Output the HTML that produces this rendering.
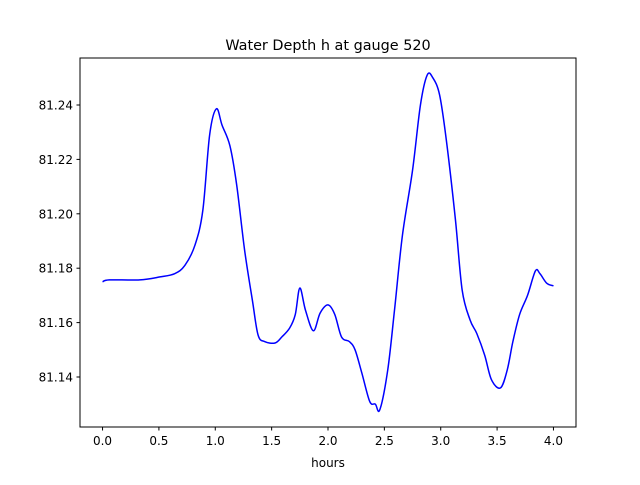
<!DOCTYPE html>
<html><head><meta charset="utf-8"><style>
body{margin:0;background:#fff;}
svg text{font-family:"DejaVu Sans","Liberation Sans",sans-serif;}
</style></head><body>
<svg id="chart" width="640" height="480" xmlns="http://www.w3.org/2000/svg">
<rect width="640" height="480" fill="#fff"/>
<text x="328" y="50" text-anchor="middle" font-size="14.4">Water Depth h at gauge 520</text>
<g id="plot"></g>
<rect x="80" y="58" width="496" height="369" fill="none" stroke="#000" stroke-width="1"/>
<text x="328" y="467" text-anchor="middle" font-size="12">hours</text>
</svg>
<script>
const xs=[0.0,0.06,0.33,0.51,0.64,0.73,0.82,0.89,0.95,1.01,1.06,1.13,1.19,1.26,1.33,1.38,1.44,1.53,1.59,1.66,1.71,1.75,1.80,1.87,1.93,2.00,2.06,2.12,2.19,2.24,2.30,2.37,2.42,2.46,2.53,2.59,2.66,2.75,2.82,2.88,2.93,2.99,3.05,3.13,3.19,3.26,3.32,3.39,3.45,3.53,3.59,3.64,3.70,3.77,3.84,3.88,3.94,4.0];
const ys=[81.175,81.1757,81.1757,81.1768,81.178,81.181,81.1885,81.2014,81.229,81.2386,81.2326,81.225,81.2106,81.1867,81.168,81.1554,81.153,81.1525,81.1547,81.158,81.163,81.1727,81.1646,81.157,81.1635,81.1665,81.163,81.1547,81.153,81.150,81.1415,81.131,81.130,81.128,81.1426,81.1646,81.192,81.216,81.240,81.251,81.250,81.2437,81.227,81.198,81.172,81.161,81.156,81.148,81.139,81.136,81.1426,81.153,81.163,81.170,81.179,81.178,81.1745,81.1735];
const xTicks=[0,0.5,1,1.5,2,2.5,3,3.5,4];
const xTickLabels=["0.0","0.5","1.0","1.5","2.0","2.5","3.0","3.5","4.0"];
const yTicks=[81.14,81.16,81.18,81.20,81.22,81.24];
const yTickLabels=["81.14","81.16","81.18","81.20","81.22","81.24"];
const X=v=>80+(v+0.2)/4.4*496;
const Y=v=>377-(v-81.14)*2720;
const NS="http://www.w3.org/2000/svg";
const g=document.getElementById('plot');
function mk(t,a){const e=document.createElementNS(NS,t);for(const k in a)e.setAttribute(k,a[k]);g.appendChild(e);return e;}
xTicks.forEach((t,i)=>{
 const l=mk('line',{x1:X(t),x2:X(t),y1:427,y2:430.5,stroke:'#000'});
 
 
 const tx=mk('text',{x:X(t),y:445,'text-anchor':'middle','font-size':12});
 tx.textContent=xTickLabels[i];
 
 
});
yTicks.forEach((t,i)=>{
 const l=mk('line',{x1:76.5,x2:80,y1:Y(t),y2:Y(t),stroke:'#000'});
 
 
 const tx=mk('text',{x:73,y:Y(t)+4.5,'text-anchor':'end','font-size':12});
 tx.textContent=yTickLabels[i];
 
 
});
const p=xs.map((x,i)=>[X(x),Y(ys[i])]);
let d='M'+p[0][0]+','+p[0][1];
for(let i=0;i<p.length-1;i++){
 const p0=p[Math.max(i-1,0)],p1=p[i],p2=p[i+1],p3=p[Math.min(i+2,p.length-1)];
 d+=' C'+(p1[0]+(p2[0]-p0[0])/6)+','+(p1[1]+(p2[1]-p0[1])/6)+' '+(p2[0]-(p3[0]-p1[0])/6)+','+(p2[1]-(p3[1]-p1[1])/6)+' '+p2[0]+','+p2[1];
}
const line=mk('path',{d:d,fill:'none',stroke:'#0000ff','stroke-width':1.5});


</script>
</body></html>
